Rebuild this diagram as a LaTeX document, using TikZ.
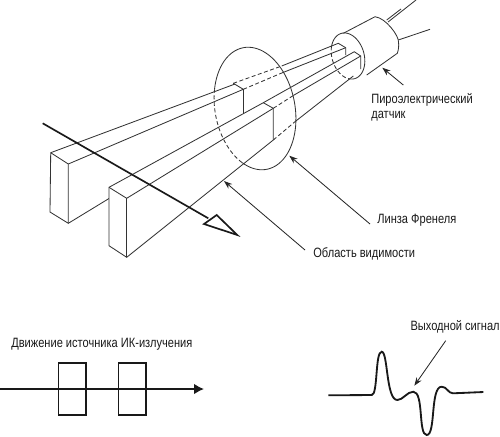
\documentclass[tikz,border=0pt]{standalone}
\usepackage{fontspec}
\setmainfont[FakeStretch=0.82]{Liberation Sans}
\usetikzlibrary{arrows.meta}
\tikzset{
  thin line/.style={line width=0.5pt,draw=black!80},
  hidden/.style={thin line,dash pattern=on 2.4pt off 1.5pt},
  leader/.style={line width=0.5pt,draw=black!85,-{Stealth[length=5pt,width=3.6pt]}},
  thick line/.style={line width=1pt,draw=black!90},
  caption/.style={anchor=west,inner sep=0pt,font=\fontsize{8.1pt}{9pt}\selectfont,text=black!90,align=left},
}
\begin{document}
\begin{tikzpicture}[x=0.6pt,y=-0.6pt]
\useasboundingbox (0,0) rectangle (500,436);
% back beam
\draw[thin line] (235,84)--(50.7,152.7)--(50,212)--(68.3,223.3)--(68.3,164)--(50.7,152.7);
\draw[thin line] (68.3,164)--(243.3,89.3)--(233.3,83.3);
\draw[thin line] (243.3,89.3)--(243.3,113.3);
\draw[thin line] (68.3,223.3)--(109,198.5);
\draw[hidden] (233.3,83.3)--(281.7,66);
\draw[hidden] (243.3,89.3)--(281.7,73);
\draw[thin line] (281.7,66)--(338.3,43.3)--(345.7,47.7)--(345.7,55);
\draw[thin line] (281.7,73)--(345.7,47.7);
% front beam
\draw[fill=white,thin line] (263.3,102.7)--(109,187.3)--(109,245.7)--(126.7,257.3)--(273.3,140)--(273.3,108.3)--cycle;
\draw[thin line] (109,187.3)--(126.7,198.3)--(273.3,108.3);
\draw[thin line] (126.7,198.3)--(126.7,257.3);
\draw[thin line] (263.3,102.7)--(354.3,51.7)--(360.7,56)--(360.7,69);
\draw[hidden] (273.3,108.3)--(293.3,95.5);
\draw[thin line] (293.3,95.5)--(360.7,56);
\draw[hidden] (273.3,140)--(295,121.7);
\draw[thin line] (295,121.7)--(353.3,76);
\draw[thin line] (243.3,89.3)--(243.3,113.3);
% lens
\draw[thin line,smooth] plot[domain=205:485,samples=70,variable=\t]
 ({255+39.2*cos(\t)+11.8*sin(\t)},{108.5-7.6*cos(\t)+60.8*sin(\t)});
\draw[hidden,smooth] plot[domain=125:205,samples=24,variable=\t]
 ({255+39.2*cos(\t)+11.8*sin(\t)},{108.5-7.6*cos(\t)+60.8*sin(\t)});
% sensor
\draw[thin line] (343.3,33.3)--(375,16.7) .. controls (386,18) and (399,36) .. (398.5,42) .. controls (399,46) and (398.5,50) .. (397.3,53.3)--(366.7,75);
\draw[thin line,smooth] plot[domain=215:460,samples=60,variable=\t]
 ({348+15.4*cos(\t)+6.8*sin(\t)},{56-4.6*cos(\t)+22.6*sin(\t)});
\draw[hidden,smooth] plot[domain=100:215,samples=24,variable=\t]
 ({348+15.4*cos(\t)+6.8*sin(\t)},{56-4.6*cos(\t)+22.6*sin(\t)});
\draw[thin line] (386.7,20)--(401,9);
\draw[thin line] (388,22)--(416,0);
\draw[thin line] (398.3,40)--(430,29.3);
% motion arrow
\coordinate (mstart) at (42.7,123.3);
\coordinate (mend) at (208.3,218.3);
\draw[thick line] (mstart)--(mend);
\draw[thick line,line join=miter] (216.7,215)--(237.3,235)--(204,224)--cycle;
% labels and leaders
\node[caption] (pyro) at (371,107) {Пироэлектрический\\датчик};
\node[caption] (fresnel) at (377,220) {Линза Френеля};
\node[caption] (field) at (313,254) {Область видимости};
\node[caption] (motion) at (11,344) {Движение источника ИК-излучения};
\node[caption,anchor=east] (output) at (500,327) {Выходной сигнал};
\coordinate (pyrotip) at (382.3,67.7);
\coordinate (fresneltip) at (289.3,155.7);
\coordinate (fieldtip) at (224,181);
\coordinate (outtip) at (414.3,385.7);
\draw[leader] (403.3,85)--(pyrotip);
\draw[leader] (370,224)--(fresneltip);
\draw[leader] (305,250)--(fieldtip);
\draw[leader] (445.7,340.7)--(outtip);
% bottom left
\node[draw=black!90,line width=1pt,minimum width=16.5pt,minimum height=31.5pt,inner sep=0pt] (boxa) at (72.2,389) {};
\node[draw=black!90,line width=1pt,minimum width=16.5pt,minimum height=31.5pt,inner sep=0pt] (boxb) at (132.2,389) {};
\coordinate (l0) at (0,389);
\coordinate (l1) at (204,389);
\draw[thick line,-{Latex[length=6pt,width=6.4pt]}] (l0)--(l1);
% signal
\draw[line width=1.1pt,draw=black!90] (328.3,395.3)--(371.7,395)
 .. controls (378,395) and (375,351.7) .. (381.7,351.7)
 .. controls (388,351.7) and (386,400) .. (397.3,400)
 .. controls (403,400) and (407,391.7) .. (413.3,391.7)
 .. controls (424,391.7) and (418,435) .. (426.7,435)
 .. controls (436,435) and (430,386.7) .. (441.7,386.7)
 .. controls (447,386.7) and (448,393.3) .. (453,393.3)
 -- (483.3,392);
\end{tikzpicture}
\end{document}
